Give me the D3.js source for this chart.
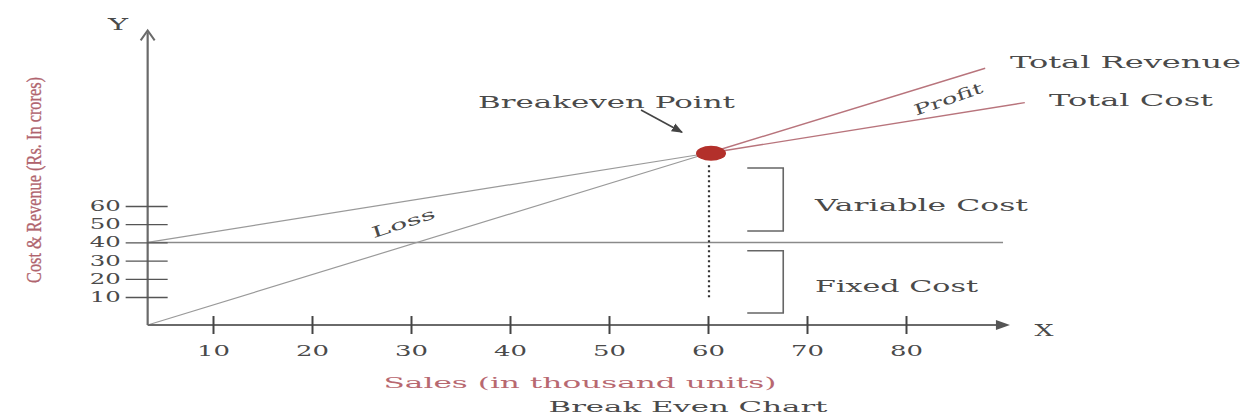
<!DOCTYPE html>
<html>
<head>
<meta charset="utf-8">
<script src="https://cdn.jsdelivr.net/npm/d3@7/dist/d3.min.js"></script>
<style>
  html, body { margin: 0; padding: 0; background: #fff; }
  svg { display: block; }
</style>
</head>
<body>
<svg id="chart" width="1248" height="417"></svg>
<script>
// Break-even chart: sales (thousand units) against cost & revenue (Rs. in crores)
const salesTicks = [10, 20, 30, 40, 50, 60, 70, 80];
const amountTicks = [10, 20, 30, 40, 50, 60];

const fixedCost = 40;
const breakEven = { sales: 60, amount: 89 };

// Total revenue line (starts at the origin), through break-even
const revenueSales  = [3.4, 60, 88];
const revenueAmount = [-5.4, 89, 135.7];

// Total cost line (starts at fixed cost), through break-even
const costSales  = [3.4, 60, 92];
const costAmount = [40, 89, 116.8];

// Axis extents in data units
const axisOrigin = { sales: 3.4, amount: -5.4 };
const salesAxisEnd = 90.5;
const amountAxisEnd = 156.5;
const fixedLineEnd = 89.8;

// Bracket spans (amount units) and their sales position
const variableSpan = [46.3, 80.9];
const fixedSpan = [1.2, 35.4];
const bracketSales = 67.6;

const svg = d3.select("#chart");
const x = d3.scaleLinear().domain([10, 80]).range([213, 906]);
const y = d3.scaleLinear().domain([10, 60]).range([297, 206]);

const serif = "'DejaVu Serif', serif";
const textColor = "#4a4a4a";
const axisColor = "#6a6a6a";

const defs = svg.append("defs");
defs.append("marker")
  .attr("id", "arrowHead").attr("viewBox", "0 0 10 10")
  .attr("refX", 9).attr("refY", 5)
  .attr("markerWidth", 7).attr("markerHeight", 7)
  .attr("orient", "auto")
  .append("path").attr("d", "M0,1 L10,5 L0,9 Z").attr("fill", "#444");

const ox = x(axisOrigin.sales), oy = y(axisOrigin.amount);

// Fixed cost horizontal line
svg.append("line")
  .attr("x1", ox).attr("x2", x(fixedLineEnd))
  .attr("y1", y(fixedCost)).attr("y2", y(fixedCost))
  .attr("stroke", "#8a8a8a").attr("stroke-width", 1.5);

// Cost and revenue lines: grey up to break-even, reddish beyond
const lineGen = d3.line().x(d => x(d[0])).y(d => y(d[1]));
function drawSeries(sales, amounts) {
  const pts = sales.map((s, i) => [s, amounts[i]]);
  const k = sales.indexOf(breakEven.sales);
  svg.append("path").attr("d", lineGen(pts.slice(0, k + 1)))
    .attr("fill", "none").attr("stroke", "#9a9a9a").attr("stroke-width", 1.2);
  svg.append("path").attr("d", lineGen(pts.slice(k)))
    .attr("fill", "none").attr("stroke", "#b8747c").attr("stroke-width", 1.4);
}
drawSeries(revenueSales, revenueAmount);
drawSeries(costSales, costAmount);

// Y axis
svg.append("line")
  .attr("x1", ox).attr("x2", ox).attr("y1", oy).attr("y2", y(amountAxisEnd) + 2)
  .attr("stroke", axisColor).attr("stroke-width", 2.2);
svg.append("path")
  .attr("d", `M${ox - 7},${y(amountAxisEnd) + 10} L${ox},${y(amountAxisEnd)} L${ox + 7},${y(amountAxisEnd) + 10}`)
  .attr("fill", "none").attr("stroke", axisColor).attr("stroke-width", 2);

// X axis
svg.append("line")
  .attr("x1", ox).attr("x2", x(salesAxisEnd) - 4).attr("y1", oy).attr("y2", oy)
  .attr("stroke", axisColor).attr("stroke-width", 2);
svg.append("path")
  .attr("d", `M${x(salesAxisEnd) - 14},${oy - 5} L${x(salesAxisEnd)},${oy} L${x(salesAxisEnd) - 14},${oy + 5} Z`)
  .attr("fill", "#555");

// Y ticks and labels
const yAxis = svg.append("g").attr("transform", `translate(${ox},0)`)
  .call(d3.axisLeft(y).tickValues(amountTicks).tickSize(0).tickPadding(27));
yAxis.select(".domain").remove();
yAxis.selectAll(".tick line")
  .attr("x1", -22).attr("x2", 20)
  .attr("stroke", "#555").attr("stroke-width", 1.3);
yAxis.selectAll(".tick text")
  .attr("font-family", serif).attr("font-size", 14).attr("fill", textColor)
  .attr("textLength", 31).attr("lengthAdjust", "spacingAndGlyphs");

// X ticks and labels
const xAxis = svg.append("g").attr("transform", `translate(0,${oy})`)
  .call(d3.axisBottom(x).tickValues(salesTicks).tickSize(0).tickPadding(21));
xAxis.select(".domain").remove();
xAxis.selectAll(".tick line")
  .attr("y1", -9).attr("y2", 9)
  .attr("stroke", "#444").attr("stroke-width", 2);
xAxis.selectAll(".tick text")
  .attr("font-family", serif).attr("font-size", 14).attr("fill", textColor)
  .attr("textLength", 33).attr("lengthAdjust", "spacingAndGlyphs");

// Dotted drop line from break-even
svg.append("line")
  .attr("x1", x(breakEven.sales) + 1).attr("x2", x(breakEven.sales) + 1)
  .attr("y1", y(breakEven.amount) + 12).attr("y2", y(10) + 2)
  .attr("stroke", "#333").attr("stroke-width", 2.2)
  .attr("stroke-dasharray", "2,3");

// Break-even marker
svg.append("ellipse")
  .attr("cx", x(breakEven.sales) + 3).attr("cy", y(breakEven.amount))
  .attr("rx", 15).attr("ry", 7.5)
  .attr("fill", "#b3302b");

// Brackets
function bracket(span) {
  const bx = x(bracketSales);
  svg.append("path")
    .attr("d", `M${bx - 36},${y(span[1])} L${bx},${y(span[1])} L${bx},${y(span[0])} L${bx - 36},${y(span[0])}`)
    .attr("fill", "none").attr("stroke", "#666").attr("stroke-width", 1.6);
}
bracket(variableSpan);
bracket(fixedSpan);

// Text labels
function label(txt, px, py, opts = {}) {
  const t = svg.append("text")
    .attr("x", px).attr("y", py)
    .attr("font-family", opts.family || serif)
    .attr("font-size", opts.size || 17)
    .attr("fill", opts.color || textColor)
    .attr("text-anchor", opts.anchor || "start")
    .text(txt);
  if (opts.len) t.attr("textLength", opts.len).attr("lengthAdjust", "spacingAndGlyphs");
  if (opts.rotate !== undefined) t.attr("transform", `rotate(${opts.rotate},${px},${py})`);
  return t;
}

label("Y", 118, 30, { size: 16, anchor: "middle", len: 20 });
label("X", 1044, 336, { size: 17, anchor: "middle", len: 19 });

label("Total Revenue", 1010, 68, { size: 16, len: 231 });
label("Total Cost", 1049, 106, { size: 16, len: 164 });
label("Breakeven Point", 478, 108, { size: 17, len: 257 });
label("Variable Cost", 815, 211, { size: 17, len: 213 });
label("Fixed Cost", 815, 292, { size: 17, len: 163 });

label("Loss", 405, 228, { size: 15, anchor: "middle", len: 66, rotate: -18 });
label("Profit", 950, 104, { size: 15, anchor: "middle", len: 72, rotate: -19 });

// Arrow pointing to the break-even marker
svg.append("line")
  .attr("x1", 641).attr("y1", 110)
  .attr("x2", x(breakEven.sales) - 26).attr("y2", y(breakEven.amount) - 21)
  .attr("stroke", "#444").attr("stroke-width", 1.6)
  .attr("marker-end", "url(#arrowHead)");

// Axis titles
label("Cost & Revenue (Rs. In crores)", 41, 180, {
  family: "'Liberation Serif', serif", size: 21, anchor: "middle",
  color: "#b0646e", len: 206, rotate: -90
}).attr("stroke", "#b0646e").attr("stroke-width", 0.3);
label("Sales (in thousand units)", 580, 388, { size: 15, anchor: "middle", color: "#b86870", len: 393 });
label("Break Even Chart", 688, 412, { size: 15, anchor: "middle", len: 279 });
</script>
</body>
</html>
